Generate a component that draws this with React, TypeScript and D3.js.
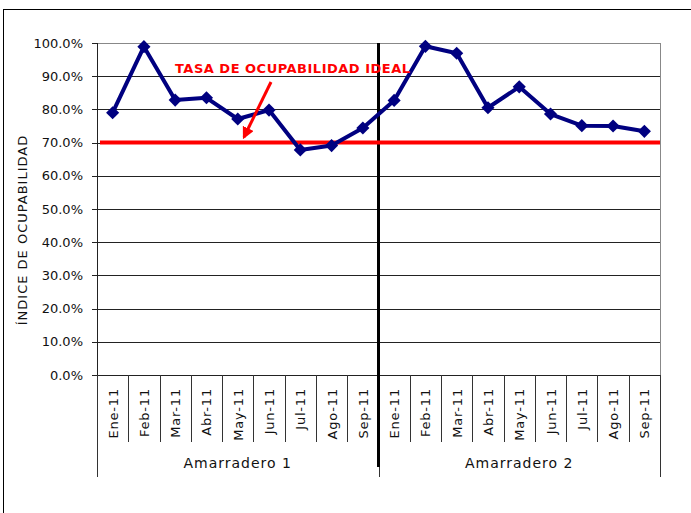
import React, { useEffect, useRef } from 'react';
import * as d3 from 'd3';

// months per berth
const months = ['Ene-11', 'Feb-11', 'Mar-11', 'Abr-11', 'May-11', 'Jun-11', 'Jul-11', 'Ago-11', 'Sep-11'];
const groups = ['Amarradero 1', 'Amarradero 2'];
const amarradero1 = [79.0, 98.9, 82.8, 83.5, 77.1, 79.8, 67.8, 69.1, 74.4];
const amarradero2 = [82.7, 99.0, 96.9, 80.5, 86.8, 78.6, 75.1, 75.0, 73.4];
const idealRate = 70;
const yTicks = [0, 10, 20, 30, 40, 50, 60, 70, 80, 90, 100];

const W = 691;
const H = 513;
const margin = { left: 97, right: 31, top: 43, bottom: 138 };

const App = () => {
  const ref = useRef(null);

  useEffect(() => {
    const svg = d3.select(ref.current);
    svg.selectAll('*').remove();
    const font = 'DejaVu Sans, sans-serif';

    const values = [...amarradero1, ...amarradero2];
    const keys = values.map((_, i) => String(i));
    const innerW = W - margin.left - margin.right;
    const innerH = H - margin.top - margin.bottom;

    const x = d3.scaleBand().domain(keys).range([0, innerW]);
    const y = d3.scaleLinear().domain([0, 100]).range([innerH, 0]);

    // outer frame of the chart
    svg.append('rect')
      .attr('x', 3.5).attr('y', 9.5)
      .attr('width', W + 10).attr('height', H + 10)
      .attr('fill', 'white').attr('stroke', 'black').attr('stroke-width', 1);

    const g = svg.append('g').attr('transform', `translate(${margin.left},${margin.top})`);

    // gridlines
    g.selectAll('.grid').data(yTicks.slice(1)).join('line')
      .attr('x1', 0).attr('x2', innerW)
      .attr('y1', d => Math.round(y(d)) + 0.5).attr('y2', d => Math.round(y(d)) + 0.5)
      .attr('stroke', d => d === 100 ? '#888' : '#222').attr('stroke-width', 1);

    // right border of plot area
    g.append('line')
      .attr('x1', innerW + 0.5).attr('x2', innerW + 0.5)
      .attr('y1', 0).attr('y2', innerH)
      .attr('stroke', '#888');

    // y axis
    g.append('line').attr('x1', 0.5).attr('x2', 0.5).attr('y1', 0).attr('y2', innerH).attr('stroke', '#222');
    g.selectAll('.ytick').data(yTicks).join('line')
      .attr('x1', -5).attr('x2', 0)
      .attr('y1', d => Math.round(y(d)) + 0.5).attr('y2', d => Math.round(y(d)) + 0.5)
      .attr('stroke', '#222');
    g.selectAll('.ylab').data(yTicks).join('text')
      .attr('x', -14).attr('y', d => y(d))
      .attr('dy', '0.36em').attr('text-anchor', 'end')
      .attr('font-family', font).attr('font-size', 13).attr('fill', '#111')
      .text(d => d.toFixed(1) + '%');

    svg.append('text')
      .attr('transform', `translate(27,230) rotate(-90)`)
      .attr('text-anchor', 'middle')
      .attr('font-family', font).attr('font-size', 13).attr('fill', '#111')
      .attr('letter-spacing', 1)
      .text('ÍNDICE DE OCUPABILIDAD');

    // x axis line
    g.append('line').attr('x1', 0).attr('x2', innerW)
      .attr('y1', innerH + 0.5).attr('y2', innerH + 0.5).attr('stroke', '#222');

    // category separators
    const bounds = d3.range(values.length + 1).map(i => i * x.bandwidth());
    g.selectAll('.xsep').data(bounds).join('line')
      .attr('x1', d => Math.round(d) + 0.5).attr('x2', d => Math.round(d) + 0.5)
      .attr('y1', innerH)
      .attr('y2', (_, i) => i % months.length === 0 ? innerH + 102 : innerH + 67)
      .attr('stroke', '#333');

    // month labels
    g.selectAll('.xlab').data(keys).join('text')
      .attr('transform', d => `translate(${x(d) + x.bandwidth() / 2 + 5},${innerH + 13}) rotate(-90)`)
      .attr('text-anchor', 'end')
      .attr('font-family', font).attr('font-size', 13).attr('fill', '#111')
      .attr('letter-spacing', 0.8)
      .text((_, i) => months[i % months.length]);

    // group labels
    g.selectAll('.glab').data(groups).join('text')
      .attr('x', (_, i) => (i + 0.5) * months.length * x.bandwidth())
      .attr('y', innerH + 93)
      .attr('text-anchor', 'middle')
      .attr('font-family', font).attr('font-size', 14).attr('fill', '#111')
      .attr('letter-spacing', 1)
      .text(d => d);

    // separator between berths
    const sepX = months.length * x.bandwidth();
    g.append('line')
      .attr('x1', sepX).attr('x2', sepX)
      .attr('y1', 0).attr('y2', innerH + 92)
      .attr('stroke', 'black').attr('stroke-width', 3);

    // ideal rate line
    g.append('line')
      .attr('x1', 3).attr('x2', innerW)
      .attr('y1', y(idealRate)).attr('y2', y(idealRate))
      .attr('stroke', '#ff0000').attr('stroke-width', 4);

    // series
    const line = d3.line<number>()
      .x((_, i) => x(keys[i]) + x.bandwidth() / 2)
      .y(d => y(d));
    g.append('path').datum(values)
      .attr('d', line)
      .attr('fill', 'none').attr('stroke', '#000080')
      .attr('stroke-width', 4).attr('stroke-linejoin', 'round');

    g.selectAll('.pt').data(values).join('path')
      .attr('d', d3.symbol(d3.symbolDiamond2, 110))
      .attr('transform', (d, i) => `translate(${x(keys[i]) + x.bandwidth() / 2},${y(d)})`)
      .attr('fill', '#000080');

    // annotation
    svg.append('text')
      .attr('x', 175).attr('y', 73)
      .attr('font-family', font).attr('font-size', 13).attr('font-weight', 'bold')
      .attr('letter-spacing', 0.5)
      .attr('fill', '#ff0000')
      .text('TASA DE OCUPABILIDAD IDEAL');

    svg.append('defs').append('marker')
      .attr('id', 'arrowhead')
      .attr('viewBox', '0 0 10 10').attr('refX', 8).attr('refY', 5)
      .attr('markerWidth', 4).attr('markerHeight', 4)
      .attr('orient', 'auto')
      .append('path').attr('d', 'M0,0L10,5L0,10z').attr('fill', '#ff0000');

    svg.append('line')
      .attr('x1', 271).attr('y1', 82)
      .attr('x2', 244).attr('y2', 137)
      .attr('stroke', '#ff0000').attr('stroke-width', 3)
      .attr('marker-end', 'url(#arrowhead)');
  }, []);

  return (
    <svg ref={ref} width={W} height={H}
      style={{ position: 'absolute', left: 0, top: 0, background: 'white' }} />
  );
};

export default App;
